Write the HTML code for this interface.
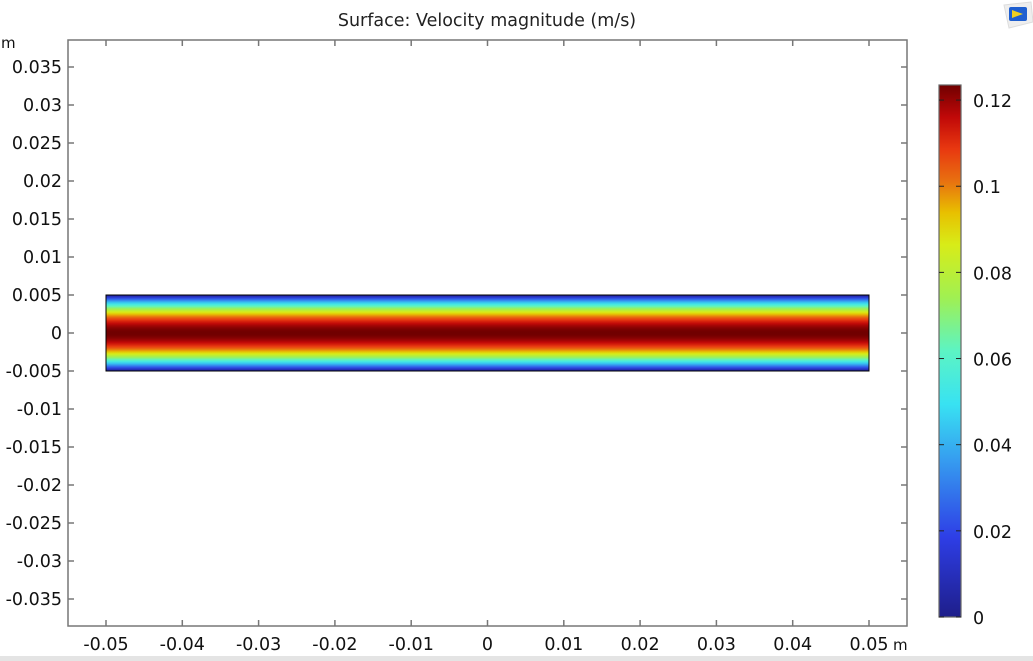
<!DOCTYPE html>
<html><head><meta charset="utf-8"><style>
html,body{margin:0;padding:0;background:#fff;}
svg{display:block;font-family:"DejaVu Sans","Liberation Sans",sans-serif;}
</style></head><body>
<svg id="chart" width="1033" height="661">
<defs>
<linearGradient id="cmap" x1="0" y1="1" x2="0" y2="0">
<stop offset="0" stop-color="#1e1e8a"/><stop offset="0.15" stop-color="#2e3ee6"/>
<stop offset="0.3" stop-color="#36a0f0"/><stop offset="0.4" stop-color="#38e2f2"/>
<stop offset="0.5" stop-color="#5cf4c4"/><stop offset="0.6" stop-color="#a0f052"/>
<stop offset="0.7" stop-color="#d8ec18"/><stop offset="0.76" stop-color="#e8c000"/>
<stop offset="0.82" stop-color="#e87010"/><stop offset="0.88" stop-color="#e83810"/>
<stop offset="0.94" stop-color="#c00808"/><stop offset="1" stop-color="#700000"/>
</linearGradient>
<linearGradient id="field" x1="0" y1="0" x2="0" y2="1"></linearGradient>
</defs>
<rect x="0" y="656" width="1033" height="5" fill="#e4e4e4"/>
<text x="487" y="26" font-size="17.5" text-anchor="middle" fill="#222">Surface: Velocity magnitude (m/s)</text>
<g transform="translate(1003,2)">
<path d="M1,3 L28,0 L30,20 L6,26 Z" fill="#eee" stroke="#ddd"/>
<rect x="6" y="5" width="18" height="14" rx="2" fill="#1f5fd0"/>
<path d="M9,8 L20,12 L9,16 Z" fill="#f0d020"/>
</g>
<g id="plot"></g>
</svg>
<script>
const xTicks=[-0.05,-0.04,-0.03,-0.02,-0.01,0,0.01,0.02,0.03,0.04,0.05];
const xTickLabels=["-0.05","-0.04","-0.03","-0.02","-0.01","0","0.01","0.02","0.03","0.04","0.05"];
const yTicks=[0.035,0.03,0.025,0.02,0.015,0.01,0.005,0,-0.005,-0.01,-0.015,-0.02,-0.025,-0.03,-0.035];
const yTickLabels=["0.035","0.03","0.025","0.02","0.015","0.01","0.005","0","-0.005","-0.01","-0.015","-0.02","-0.025","-0.03","-0.035"];
const cTicks=[0,0.02,0.04,0.06,0.08,0.1,0.12];
const cTickLabels=["0","0.02","0.04","0.06","0.08","0.1","0.12"];
const domainX=[-0.05,0.05];
const domainY=[-0.005,0.005];
const vMax=[0.1235];
const cRange=[0,0.1235];

const NS="http://www.w3.org/2000/svg";
const FS=17.5;
const X=v=>487.5+v*7630;
const Y=v=>333-v*7600;
const C=v=>617-(v-cRange[0])/(cRange[1]-cRange[0])*532;
const plot=document.getElementById('plot');
function mk(t,a,p){const e=document.createElementNS(NS,t);for(const k in a)e.setAttribute(k,a[k]);(p||plot).appendChild(e);return e;}

const cs=[[0,[30,30,138]],[0.15,[46,62,230]],[0.3,[54,160,240]],[0.4,[56,226,242]],[0.5,[92,244,196]],[0.6,[160,240,82]],[0.7,[216,236,24]],[0.76,[232,192,0]],[0.82,[232,112,16]],[0.88,[232,56,16]],[0.94,[192,8,8]],[1,[112,0,0]]];
function col(f){f=Math.max(0,Math.min(1,f));for(let i=1;i<cs.length;i++){if(f<=cs[i][0]){const a=cs[i-1],b=cs[i],t=(f-a[0])/(b[0]-a[0]);return 'rgb('+a[1].map((c,j)=>Math.round(c+(b[1][j]-c)*t)).join(',')+')';}}return 'rgb(112,0,0)';}
const fg=document.getElementById('field');
for(let i=0;i<=40;i++){const s=i/40;const yy=(s*2-1);const v=vMax[0]*(1-yy*yy);
 const st=document.createElementNS(NS,'stop');st.setAttribute('offset',s);st.setAttribute('stop-color',col(v/cRange[1]));fg.appendChild(st);}

const fr=mk('rect',{x:68,y:40,width:839,height:586,fill:'none',stroke:'#777','stroke-width':1.5});



xTicks.forEach((v,i)=>{
 const l=mk('line',{x1:X(v),x2:X(v),y1:626,y2:620,stroke:'#777','stroke-width':1.5});
 
 
 const l2=mk('line',{x1:X(v),x2:X(v),y1:40,y2:46,stroke:'#777','stroke-width':1.5});
 
 
 const t=mk('text',{x:X(v),y:650,'font-size':FS,'text-anchor':'middle',fill:'#111'});t.textContent=xTickLabels[i];
 
 
});
yTicks.forEach((v,i)=>{
 const l=mk('line',{x1:68,x2:74,y1:Y(v),y2:Y(v),stroke:'#777','stroke-width':1.5});
 
 
 const l2=mk('line',{x1:907,x2:901,y1:Y(v),y2:Y(v),stroke:'#777','stroke-width':1.5});
 
 
 const t=mk('text',{x:62,y:Y(v)+6,'font-size':FS,'text-anchor':'end',fill:'#111'});t.textContent=yTickLabels[i];
 
 
});
let u=mk('text',{x:1,y:48,'font-size':15,fill:'#111'});u.textContent='m';


u=mk('text',{x:893,y:650,'font-size':15,fill:'#111'});u.textContent='m';



const f=mk('rect',{x:X(domainX[0]),y:Y(domainY[1]),width:X(domainX[1])-X(domainX[0]),height:Y(domainY[0])-Y(domainY[1]),fill:'url(#field)',stroke:'#000','stroke-width':1});



const cb=mk('rect',{x:939,y:C(cRange[1]),width:22,height:C(cRange[0])-C(cRange[1]),fill:'url(#cmap)',stroke:'#666','stroke-width':1.2});


cTicks.forEach((v,i)=>{
 const a=mk('line',{x1:939,x2:944,y1:C(v),y2:C(v),stroke:'#222','stroke-width':1});
 
 
 const b=mk('line',{x1:956,x2:961,y1:C(v),y2:C(v),stroke:'#222','stroke-width':1});
 
 
 const t=mk('text',{x:973,y:C(v)+7,'font-size':FS,fill:'#111'});t.textContent=cTickLabels[i];
 
 
});
</script>
</body></html>
